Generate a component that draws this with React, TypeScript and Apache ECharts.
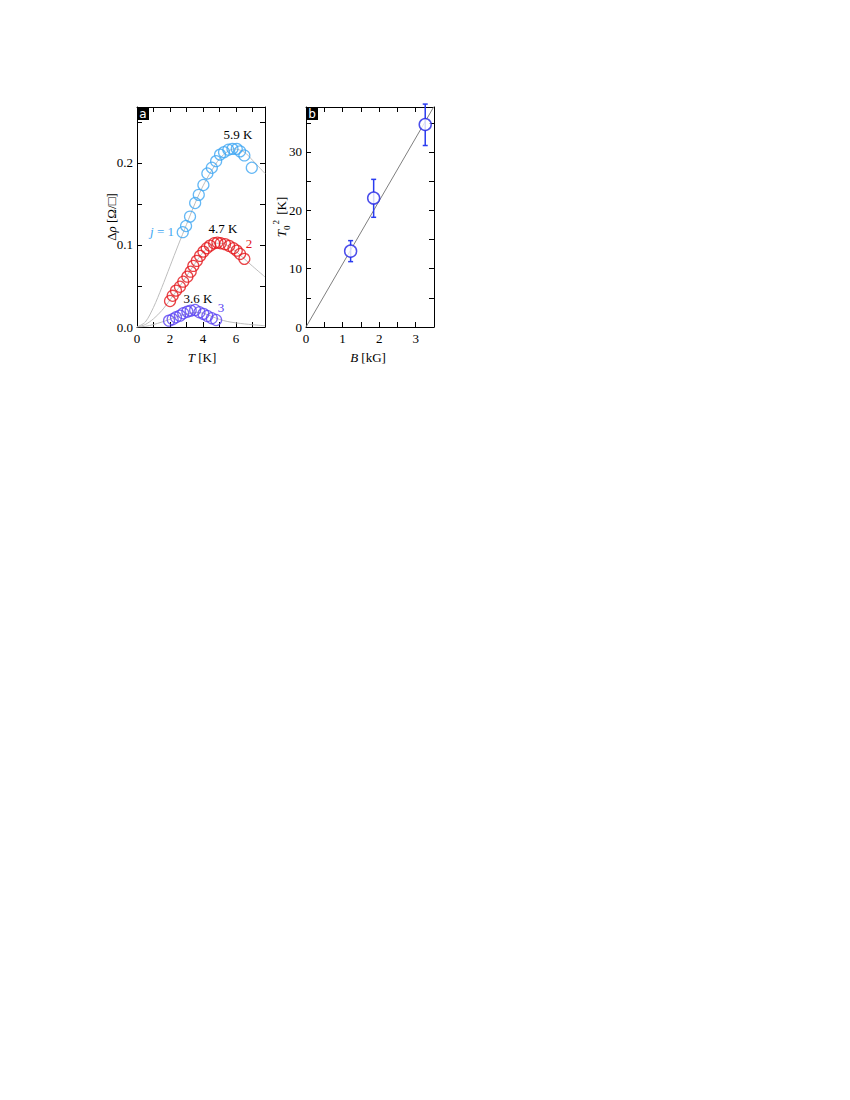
import React, { useEffect, useRef } from "react";
import * as echarts from "echarts";

// Panel a: measured points
const tJ1 = [2.77, 2.97, 3.21, 3.52, 3.74, 4.02, 4.26, 4.53, 4.79, 5.03, 5.27, 5.53, 5.78, 6.04, 6.24, 6.5, 6.95];
const rhoJ1 = [0.1155, 0.123, 0.1345, 0.151, 0.161, 0.173, 0.187, 0.194, 0.202, 0.21, 0.213, 0.216, 0.217, 0.217, 0.214, 0.209, 0.194];
const tJ2 = [2.0, 2.16, 2.36, 2.6, 2.8, 3.05, 3.25, 3.41, 3.62, 3.82, 4.02, 4.22, 4.42, 4.67, 4.87, 5.07, 5.33, 5.58, 5.84, 6.04, 6.24, 6.5];
const rhoJ2 = [0.0317, 0.038, 0.0443, 0.049, 0.0552, 0.0613, 0.0674, 0.0744, 0.0805, 0.0866, 0.0918, 0.096, 0.0991, 0.102, 0.1028, 0.102, 0.1009, 0.0988, 0.096, 0.093, 0.089, 0.083];
const tJ3 = [1.94, 2.16, 2.36, 2.6, 2.8, 3.05, 3.25, 3.52, 3.78, 4.02, 4.26, 4.53, 4.79];
const rhoJ3 = [0.0077, 0.0094, 0.0118, 0.0138, 0.0167, 0.0187, 0.02, 0.0207, 0.018, 0.016, 0.0134, 0.0106, 0.0085];

// Panel a: fit curves
const fitT1 = [0, 0.5, 1, 1.5, 2, 2.5, 3, 3.5, 4, 4.5, 5, 5.5, 5.9, 6.5, 7, 7.75];
const fitR1 = [0, 0.006, 0.024, 0.048, 0.074, 0.1, 0.125, 0.15, 0.172, 0.19, 0.205, 0.214, 0.217, 0.213, 0.203, 0.187];
const fitT2 = [0, 0.5, 1, 1.5, 2, 2.5, 3, 3.5, 4, 4.5, 4.8, 5.2, 5.5, 6, 6.5, 7, 7.75];
const fitR2 = [0, 0.003, 0.01, 0.02, 0.033, 0.047, 0.062, 0.077, 0.091, 0.1, 0.102, 0.102, 0.099, 0.092, 0.083, 0.074, 0.061];
const fitT3 = [0, 0.5, 1, 1.5, 2, 2.5, 3, 3.6, 4, 4.5, 5, 5.5, 6, 6.5, 7, 7.75];
const fitR3 = [0, 0.0008, 0.003, 0.006, 0.0095, 0.013, 0.016, 0.0178, 0.0168, 0.0132, 0.0092, 0.0066, 0.005, 0.0038, 0.0028, 0.0015];

// Panel b
const fieldB = [1.22, 1.85, 3.26];
const t0sq = [13.0, 22.1, 34.7];
const t0sqLo = [11.2, 18.8, 31.1];
const t0sqHi = [14.8, 25.3, 38.2];
const lineB = [0, 3.5];
const lineT0sq = [0, 37.8];

// Annotations
const peakLabels = ["5.9 K", "4.7 K", "3.6 K"];
const indexLabels = ["j = 1", "2", "3"];

const SERIF = "Liberation Serif, Times New Roman, serif";
const C1 = "#3fa6f2";
const C2 = "#e3161c";
const C3 = "#5a42f2";
const CB = "#1e22e6";
const GRAY = "#bdbdbd";

const zip = (a: number[], b: number[]) => a.map((v, i) => [v, b[i]]);

function axisCommon(extra: any) {
  return {
    type: "value",
    splitLine: { show: false },
    axisLine: { show: true, onZero: false, lineStyle: { color: "#000", width: 1 } },
    axisTick: { show: true, inside: true, length: 5, lineStyle: { color: "#000", width: 1 } },
    ...extra,
  };
}

export default function App() {
  const ref = useRef<HTMLDivElement>(null);
  useEffect(() => {
    if (!ref.current) return;
    const chart = echarts.init(ref.current, undefined, { renderer: "svg" });
    const labelStyle = { color: "#000", fontFamily: SERIF, fontSize: 13 };
    const txt = (x: number, y: number, text: string, fill: string, extra: any = {}) => ({
      type: "text", x, y, z: 10,
      style: { text, fill, fontFamily: SERIF, fontSize: 13, align: "center", verticalAlign: "middle", ...extra },
    });
    const option: any = {
      animation: false,
      backgroundColor: "#fff",
      grid: [
        { left: 137, top: 107, width: 128, height: 220 },
        { left: 306, top: 107, width: 128, height: 220 },
      ],
      xAxis: [
        axisCommon({
          gridIndex: 0, position: "bottom", min: 0, max: 7.75, interval: 1,
          axisLabel: { ...labelStyle, margin: 5, showMaxLabel: false, formatter: (v: number) => (v % 2 === 0 ? String(v) : "") },
        }),
        axisCommon({ gridIndex: 0, position: "top", min: 0, max: 7.75, interval: 1, axisLabel: { show: false } }),
        axisCommon({
          gridIndex: 1, position: "bottom", min: 0, max: 3.5, interval: 0.5,
          axisLabel: { ...labelStyle, margin: 5, showMaxLabel: false, formatter: (v: number) => (Number.isInteger(v) ? String(v) : "") },
        }),
        axisCommon({ gridIndex: 1, position: "top", min: 0, max: 3.5, interval: 0.5, axisLabel: { show: false } }),
      ],
      yAxis: [
        axisCommon({
          gridIndex: 0, position: "left", min: 0, max: 0.268, interval: 0.05,
          axisLabel: {
            ...labelStyle, margin: 4, showMaxLabel: false,
            formatter: (v: number) => (Math.abs(v * 10 - Math.round(v * 10)) < 1e-6 ? v.toFixed(1) : ""),
          },
        }),
        axisCommon({ gridIndex: 0, position: "right", min: 0, max: 0.268, interval: 0.05, axisLabel: { show: false } }),
        axisCommon({
          gridIndex: 1, position: "left", min: 0, max: 37.7, interval: 5,
          axisLabel: { ...labelStyle, margin: 4, showMaxLabel: false, formatter: (v: number) => (v % 10 === 0 ? String(v) : "") },
        }),
        axisCommon({ gridIndex: 1, position: "right", min: 0, max: 37.7, interval: 5, axisLabel: { show: false } }),
      ],
      series: [
        ...[
          [fitT1, fitR1],
          [fitT2, fitR2],
          [fitT3, fitR3],
        ].map(([t, r]) => ({
          type: "line", xAxisIndex: 0, yAxisIndex: 0, data: zip(t, r), smooth: 0.3,
          showSymbol: false, symbol: "none", lineStyle: { color: GRAY, width: 1 }, clip: true, z: 1,
        })),
        ...[
          [tJ1, rhoJ1, C1],
          [tJ2, rhoJ2, C2],
          [tJ3, rhoJ3, C3],
        ].map(([t, r, c]: any) => ({
          type: "scatter", xAxisIndex: 0, yAxisIndex: 0, data: zip(t, r), symbol: "circle", symbolSize: 11,
          itemStyle: { color: "rgba(255,255,255,0)", borderColor: c, borderWidth: 1.25 }, z: 3,
        })),
        {
          type: "line", xAxisIndex: 2, yAxisIndex: 2, data: zip(lineB, lineT0sq), showSymbol: false, symbol: "none",
          lineStyle: { color: "#7f7f7f", width: 1 }, clip: true, z: 1,
        },
        {
          type: "custom", xAxisIndex: 2, yAxisIndex: 2, coordinateSystem: "cartesian2d", z: 2, clip: false,
          data: fieldB.map((b, i) => [b, t0sq[i], t0sqLo[i], t0sqHi[i]]),
          encode: { x: 0, y: [1, 2, 3] },
          renderItem: (params: any, api: any) => {
            const x = api.value(0);
            const p1 = api.coord([x, api.value(2)]);
            const p2 = api.coord([x, api.value(3)]);
            const w = 2.5;
            const st = { stroke: "#2a3cf0", lineWidth: 1.5 };
            return {
              type: "group",
              children: [
                { type: "line", shape: { x1: p1[0], y1: p1[1], x2: p2[0], y2: p2[1] }, style: st },
                { type: "line", shape: { x1: p1[0] - w, y1: p1[1], x2: p1[0] + w, y2: p1[1] }, style: st },
                { type: "line", shape: { x1: p2[0] - w, y1: p2[1], x2: p2[0] + w, y2: p2[1] }, style: st },
              ],
            };
          },
        },
        {
          type: "scatter", xAxisIndex: 2, yAxisIndex: 2, data: zip(fieldB, t0sq), symbol: "circle", symbolSize: 12,
          itemStyle: { color: "#fff", borderColor: CB, borderWidth: 1.5 }, z: 3,
        },
      ],
      graphic: [
        // panel tags
        { type: "rect", left: 137, top: 107, shape: { width: 12, height: 13 }, style: { fill: "#000" }, z: 10 },
        { type: "text", x: 143, y: 114, z: 11, style: { text: "a", fill: "#fff", fontFamily: "DejaVu Sans, sans-serif", fontSize: 12, align: "center", verticalAlign: "middle" } },
        { type: "rect", left: 306, top: 107, shape: { width: 12, height: 13 }, style: { fill: "#000" }, z: 10 },
        { type: "text", x: 312, y: 114, z: 11, style: { text: "b", fill: "#fff", fontFamily: "DejaVu Sans, sans-serif", fontSize: 12, align: "center", verticalAlign: "middle" } },
        // peak labels
        txt(238, 134, peakLabels[0], "#000"),
        txt(223, 228, peakLabels[1], "#000"),
        txt(198, 298, peakLabels[2], "#000"),
        // index labels
        txt(162, 231, "{i|j}" + indexLabels[0].slice(1), C1, {
          rich: { i: { fontStyle: "italic", fontFamily: SERIF, fontSize: 13, fill: C1 } },
        }),
        txt(249, 243, indexLabels[1], C2),
        txt(221, 307, indexLabels[2], C3),
        // axis titles
        {
          ...txt(111, 217, "Δ{i|ρ} [Ω/□]", "#000", { rich: { i: { fontStyle: "italic", fontFamily: SERIF, fontSize: 13 } } }),
          rotation: Math.PI / 2,
        },
        txt(202, 357, "{i|T} [K]", "#000", { rich: { i: { fontStyle: "italic", fontFamily: SERIF, fontSize: 13 } } }),
        txt(368, 357, "{i|B} [kG]", "#000", { rich: { i: { fontStyle: "italic", fontFamily: SERIF, fontSize: 13 } } }),
        {
          ...txt(281, 217, "{i|T}{sub|0}{sup|2} [K]", "#000", {
            rich: {
              i: { fontStyle: "italic", fontFamily: SERIF, fontSize: 13, lineHeight: 20 },
              sub: { fontFamily: SERIF, fontSize: 9, verticalAlign: "bottom" },
              sup: { fontFamily: SERIF, fontSize: 9, verticalAlign: "top", padding: [0, 2, 0, 1] },
            },
          }),
          rotation: Math.PI / 2,
        },
      ],
    };
    chart.setOption(option);
    return () => chart.dispose();
  }, []);
  return <div ref={ref} style={{ position: "absolute", left: 0, top: 0, width: 850, height: 1100 }} />;
}
